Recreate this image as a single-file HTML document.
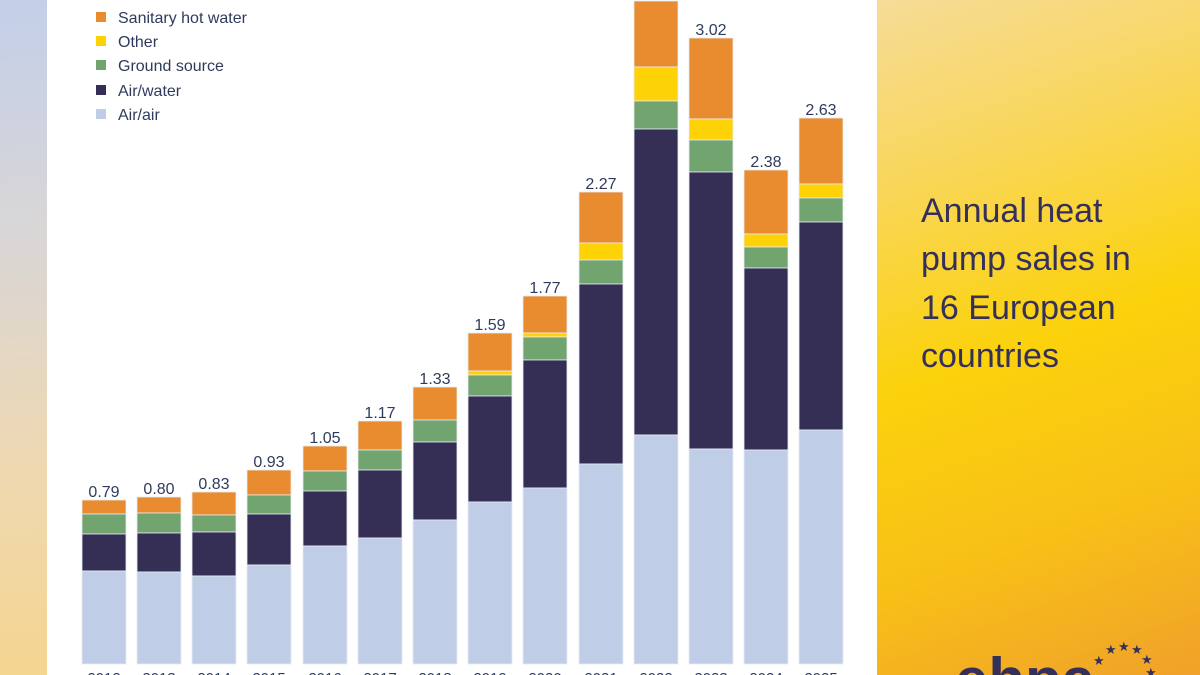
<!DOCTYPE html>
<html><head><meta charset="utf-8"><style>
html,body{margin:0;padding:0;width:1200px;height:675px;overflow:hidden;}
body{position:relative;font-family:"Liberation Sans",Arial,sans-serif;background:#fff;}
#left{position:absolute;left:0;top:0;width:47px;height:675px;background:linear-gradient(175deg,#c3cfe9 0%,#d9d6d6 35%,#efd8b0 70%,#f4d690 100%);}
#right{position:absolute;left:877px;top:0;width:323px;height:675px;background:linear-gradient(160deg,#f6dc98 0%,#f9d657 25%,#fbd20c 50%,#f8c017 75%,#f0a12a 100%);}
</style></head><body>
<div id="left"></div>
<div id="right"></div>
<svg width="1200" height="675" style="position:absolute;left:0;top:0" font-family="Liberation Sans, Arial, sans-serif">
<g stroke="#e8ecf4" stroke-width="0.8">
<!-- bars: [x, orange, yellow, green, dark, light] -->
<!-- 2012 --><rect x="82" y="500" width="44" height="14" fill="#e98c2f"/><rect x="82" y="514" width="44" height="20" fill="#71a46e"/><rect x="82" y="534" width="44" height="37" fill="#352f55"/><rect x="82" y="571" width="44" height="93" fill="#c0cde6"/>
<!-- 2013 --><rect x="137" y="497" width="44" height="16" fill="#e98c2f"/><rect x="137" y="513" width="44" height="20" fill="#71a46e"/><rect x="137" y="533" width="44" height="39" fill="#352f55"/><rect x="137" y="572" width="44" height="92" fill="#c0cde6"/>
<!-- 2014 --><rect x="192" y="492" width="44" height="23" fill="#e98c2f"/><rect x="192" y="515" width="44" height="17" fill="#71a46e"/><rect x="192" y="532" width="44" height="44" fill="#352f55"/><rect x="192" y="576" width="44" height="88" fill="#c0cde6"/>
<!-- 2015 --><rect x="247" y="470" width="44" height="25" fill="#e98c2f"/><rect x="247" y="495" width="44" height="19" fill="#71a46e"/><rect x="247" y="514" width="44" height="51" fill="#352f55"/><rect x="247" y="565" width="44" height="99" fill="#c0cde6"/>
<!-- 2016 --><rect x="303" y="446" width="44" height="25" fill="#e98c2f"/><rect x="303" y="471" width="44" height="20" fill="#71a46e"/><rect x="303" y="491" width="44" height="55" fill="#352f55"/><rect x="303" y="546" width="44" height="118" fill="#c0cde6"/>
<!-- 2017 --><rect x="358" y="421" width="44" height="29" fill="#e98c2f"/><rect x="358" y="450" width="44" height="20" fill="#71a46e"/><rect x="358" y="470" width="44" height="68" fill="#352f55"/><rect x="358" y="538" width="44" height="126" fill="#c0cde6"/>
<!-- 2018 --><rect x="413" y="387" width="44" height="33" fill="#e98c2f"/><rect x="413" y="420" width="44" height="22" fill="#71a46e"/><rect x="413" y="442" width="44" height="78" fill="#352f55"/><rect x="413" y="520" width="44" height="144" fill="#c0cde6"/>
<!-- 2019 --><rect x="468" y="333" width="44" height="38" fill="#e98c2f"/><rect x="468" y="371" width="44" height="4" fill="#fdd207"/><rect x="468" y="375" width="44" height="21" fill="#71a46e"/><rect x="468" y="396" width="44" height="106" fill="#352f55"/><rect x="468" y="502" width="44" height="162" fill="#c0cde6"/>
<!-- 2020 --><rect x="523" y="296" width="44" height="37" fill="#e98c2f"/><rect x="523" y="333" width="44" height="4" fill="#fdd207"/><rect x="523" y="337" width="44" height="23" fill="#71a46e"/><rect x="523" y="360" width="44" height="128" fill="#352f55"/><rect x="523" y="488" width="44" height="176" fill="#c0cde6"/>
<!-- 2021 --><rect x="579" y="192" width="44" height="51" fill="#e98c2f"/><rect x="579" y="243" width="44" height="17" fill="#fdd207"/><rect x="579" y="260" width="44" height="24" fill="#71a46e"/><rect x="579" y="284" width="44" height="180" fill="#352f55"/><rect x="579" y="464" width="44" height="200" fill="#c0cde6"/>
<!-- 2022 --><rect x="634" y="1" width="44" height="66" fill="#e98c2f"/><rect x="634" y="67" width="44" height="34" fill="#fdd207"/><rect x="634" y="101" width="44" height="28" fill="#71a46e"/><rect x="634" y="129" width="44" height="306" fill="#352f55"/><rect x="634" y="435" width="44" height="229" fill="#c0cde6"/>
<!-- 2023 --><rect x="689" y="38" width="44" height="81" fill="#e98c2f"/><rect x="689" y="119" width="44" height="21" fill="#fdd207"/><rect x="689" y="140" width="44" height="32" fill="#71a46e"/><rect x="689" y="172" width="44" height="277" fill="#352f55"/><rect x="689" y="449" width="44" height="215" fill="#c0cde6"/>
<!-- 2024 --><rect x="744" y="170" width="44" height="64" fill="#e98c2f"/><rect x="744" y="234" width="44" height="13" fill="#fdd207"/><rect x="744" y="247" width="44" height="21" fill="#71a46e"/><rect x="744" y="268" width="44" height="182" fill="#352f55"/><rect x="744" y="450" width="44" height="214" fill="#c0cde6"/>
<!-- 2025 --><rect x="799" y="118" width="44" height="66" fill="#e98c2f"/><rect x="799" y="184" width="44" height="14" fill="#fdd207"/><rect x="799" y="198" width="44" height="24" fill="#71a46e"/><rect x="799" y="222" width="44" height="208" fill="#352f55"/><rect x="799" y="430" width="44" height="234" fill="#c0cde6"/>
</g>
<g font-size="16" fill="#2f3b5c" text-anchor="middle">
<text x="104" y="497">0.79</text><text x="159" y="494">0.80</text><text x="214" y="489">0.83</text><text x="269" y="467">0.93</text>
<text x="325" y="443">1.05</text><text x="380" y="418">1.17</text><text x="435" y="384">1.33</text><text x="490" y="330">1.59</text>
<text x="545" y="293">1.77</text><text x="601" y="189">2.27</text><text x="711" y="35">3.02</text><text x="766" y="167">2.38</text><text x="821" y="115">2.63</text>
<g font-size="15">
<text x="104" y="683">2012</text><text x="159" y="683">2013</text><text x="214" y="683">2014</text><text x="269" y="683">2015</text><text x="325" y="683">2016</text><text x="380" y="683">2017</text><text x="435" y="683">2018</text><text x="490" y="683">2019</text><text x="545" y="683">2020</text><text x="601" y="683">2021</text><text x="656" y="683">2022</text><text x="711" y="683">2023</text><text x="766" y="683">2024</text><text x="821" y="683">2025</text>
</g></g>
<g font-size="16" fill="#2f3b5c">
<rect x="96" y="12" width="10" height="10" fill="#e98c2f"/><text x="118" y="23">Sanitary hot water</text>
<rect x="96" y="36" width="10" height="10" fill="#fdd207"/><text x="118" y="47">Other</text>
<rect x="96" y="60" width="10" height="10" fill="#71a46e"/><text x="118" y="71">Ground source</text>
<rect x="96" y="85" width="10" height="10" fill="#352f55"/><text x="118" y="96">Air/water</text>
<rect x="96" y="109" width="10" height="10" fill="#c0cde6"/><text x="118" y="120">Air/air</text>
</g>
<g font-size="34" fill="#35305a">
<text x="921" y="222">Annual heat</text><text x="921" y="270">pump sales in</text><text x="921" y="319">16 European</text><text x="921" y="367">countries</text>
</g>
<g fill="#35305a">
<text x="955" y="700" font-size="60" font-weight="bold">ehpa</text>
<g font-size="13"><text x="1093" y="665">★</text><text x="1105" y="654">★</text><text x="1118" y="651">★</text><text x="1131" y="654">★</text><text x="1141" y="664">★</text><text x="1145" y="677">★</text></g>
</g>
</svg>
</body></html>
